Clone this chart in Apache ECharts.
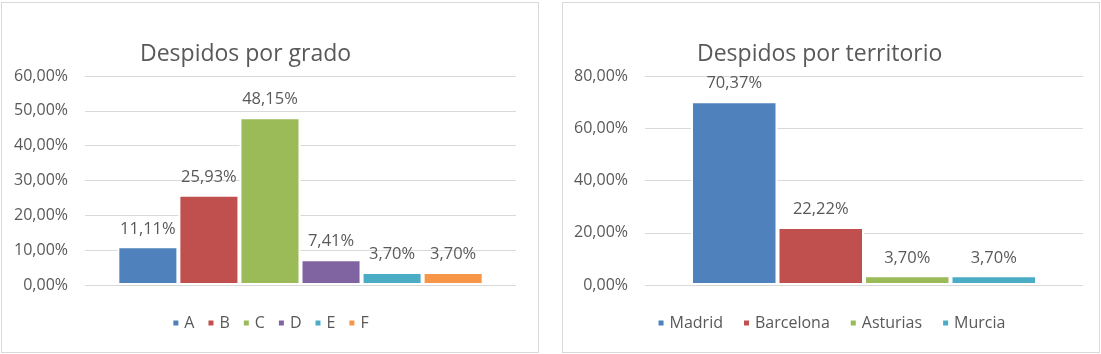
<!DOCTYPE html>
<html>
<head>
<meta charset="utf-8">
<script src="https://cdn.jsdelivr.net/npm/echarts@6/dist/echarts.min.js"></script>
<style>
  html, body { margin: 0; padding: 0; background: #fff; }
  .panel { position: absolute; top: 2px; width: 536px; height: 349px; border: 1px solid #d9d9d9; background: #fff; }
  #left { left: 1px; }
  #right { left: 562px; }
</style>
</head>
<body>
<div id="left" class="panel"></div>
<div id="right" class="panel"></div>
<script>
// Despidos por grado
const GRADO_NAMES = ['A', 'B', 'C', 'D', 'E', 'F'];
const GRADO_VALUES = [11.11, 25.93, 48.15, 7.41, 3.70, 3.70];
const GRADO_COLORS = ['#4F81BD', '#C0504D', '#9BBB59', '#8064A2', '#4BACC6', '#F79646'];
const GRADO_MAX = 60;
const GRADO_STEP = 10;

// Despidos por territorio
const TERR_NAMES = ['Madrid', 'Barcelona', 'Asturias', 'Murcia'];
const TERR_VALUES = [70.37, 22.22, 3.70, 3.70];
const TERR_COLORS = ['#4F81BD', '#C0504D', '#9BBB59', '#4BACC6'];
const TERR_MAX = 80;
const TERR_STEP = 20;

const TEXT = '#595959';
const FONT = '"Open Sans", sans-serif';

const pct = v => v.toFixed(2).replace('.', ',') + '%';

function makeChart(el, title, titleLeft, names, values, colors, max, step, opts) {
  const chart = echarts.init(el, null, { renderer: 'canvas' });
  chart.setOption({
    animation: false,
    textStyle: { fontFamily: FONT },
    title: {
      text: title,
      left: titleLeft,
      top: 40,
      padding: 0,
      textStyle: { fontFamily: FONT, fontSize: 23, fontWeight: 'normal', color: TEXT }
    },
    legend: {
      bottom: 16,
      left: 'center',
      icon: 'rect',
      itemWidth: 7,
      itemHeight: 7,
      itemGap: opts.legendGap,
      textStyle: { fontFamily: FONT, fontSize: 16, color: TEXT },
      data: names
    },
    grid: { left: opts.gridLeft, top: 73, width: opts.gridWidth, height: 209 },
    xAxis: {
      type: 'category',
      data: [''],
      axisLine: { show: false },
      axisTick: { show: false },
      axisLabel: { show: false }
    },
    yAxis: {
      type: 'value',
      min: 0,
      max: max,
      interval: step,
      axisLine: { show: false },
      axisTick: { show: false },
      axisLabel: {
        formatter: pct,
        margin: 17,
        fontFamily: FONT,
        fontSize: 16,
        color: TEXT
      },
      splitLine: { lineStyle: { color: '#d9d9d9', width: 1 } }
    },
    series: names.map((n, i) => ({
      name: n,
      type: 'bar',
      data: [values[i]],
      barGap: '0%',
      barCategoryGap: opts.catGap,
      itemStyle: { color: colors[i], borderColor: '#fff', borderWidth: 2 },
      label: {
        show: true,
        position: 'top',
        distance: 9,
        formatter: p => pct(p.value),
        fontFamily: FONT,
        fontSize: 16.5,
        color: TEXT
      }
    }))
  });
  return chart;
}

makeChart(document.getElementById('left'), 'Despidos por grado', 138,
  GRADO_NAMES, GRADO_VALUES, GRADO_COLORS, GRADO_MAX, GRADO_STEP,
  { gridLeft: 83, gridWidth: 431, catGap: '15%', legendGap: 12 });

makeChart(document.getElementById('right'), 'Despidos por territorio', 134,
  TERR_NAMES, TERR_VALUES, TERR_COLORS, TERR_MAX, TERR_STEP,
  { gridLeft: 82, gridWidth: 438, catGap: '21%', legendGap: 19 });
</script>
</body>
</html>
